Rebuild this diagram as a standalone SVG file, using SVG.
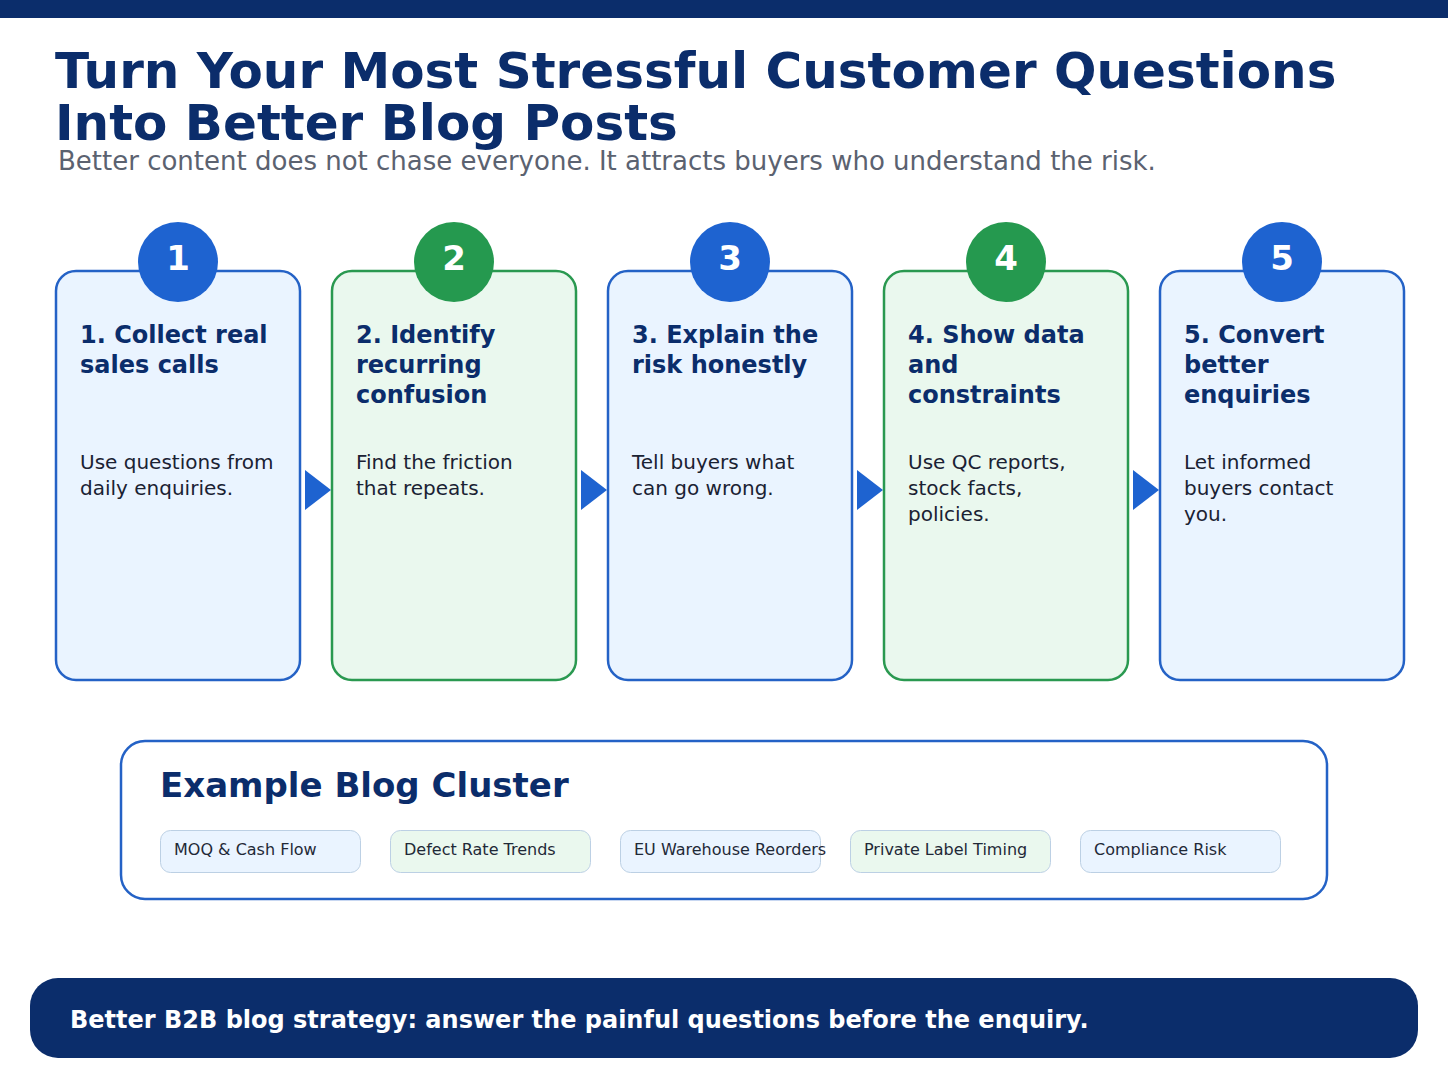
<svg xmlns="http://www.w3.org/2000/svg" width="1448" height="1086" viewBox="0 0 1448 1086">
<style>
text{font-family:"DejaVu Sans","Liberation Sans",sans-serif}
.title{font-size:50px;font-weight:bold;fill:#0B2D6B}
.sub{font-size:26px;fill:#5B6270}
.cb{fill:#EAF4FF;stroke:#2462C6;stroke-width:2.5}
.cg{fill:#EAF8EE;stroke:#2A9950;stroke-width:2.5}
.nb{fill:#1E63D0}
.ng{fill:#25994F}
.num{font-size:34px;font-weight:bold;fill:#fff;text-anchor:middle}
.ct{font-size:24px;font-weight:bold;fill:#0B2D6B}
.cx{font-size:20px;fill:#1A2233}
.arr{fill:#1E63D0}
.chb{fill:#EAF4FF;stroke:#BCD0E4;stroke-width:1}
.chg{fill:#EAF8EE;stroke:#BCD0E4;stroke-width:1}
.chip{font-size:16px;fill:#1F2937}
</style>
<rect x="0" y="0" width="1448" height="1086" fill="#fff"/>
<rect x="0" y="0" width="1448" height="18" fill="#0B2D6B"/>
<text class="title" x="55" y="88">Turn Your Most Stressful Customer Questions</text>
<text class="title" x="55" y="140">Into Better Blog Posts</text>
<text class="sub" x="58" y="170">Better content does not chase everyone. It attracts buyers who understand the risk.</text>

<g id="connectors">
<polygon class="arr" points="305,470 331,490 305,510"/>
<polygon class="arr" points="581,470 607,490 581,510"/>
<polygon class="arr" points="857,470 883,490 857,510"/>
<polygon class="arr" points="1133,470 1159,490 1133,510"/>
</g>

<g id="step1">
<rect class="cb" x="56" y="271" width="244" height="409" rx="20"/>
<circle class="nb" cx="178" cy="262" r="40"/>
<text class="num" x="178" y="270">1</text>
<text class="ct" x="80" y="343">1. Collect real</text>
<text class="ct" x="80" y="373">sales calls</text>
<text class="cx" x="80" y="469">Use questions from</text>
<text class="cx" x="80" y="495">daily enquiries.</text>
</g>
<g id="step2">
<rect class="cg" x="332" y="271" width="244" height="409" rx="20"/>
<circle class="ng" cx="454" cy="262" r="40"/>
<text class="num" x="454" y="270">2</text>
<text class="ct" x="356" y="343">2. Identify</text>
<text class="ct" x="356" y="373">recurring</text>
<text class="ct" x="356" y="403">confusion</text>
<text class="cx" x="356" y="469">Find the friction</text>
<text class="cx" x="356" y="495">that repeats.</text>
</g>
<g id="step3">
<rect class="cb" x="608" y="271" width="244" height="409" rx="20"/>
<circle class="nb" cx="730" cy="262" r="40"/>
<text class="num" x="730" y="270">3</text>
<text class="ct" x="632" y="343">3. Explain the</text>
<text class="ct" x="632" y="373">risk honestly</text>
<text class="cx" x="632" y="469">Tell buyers what</text>
<text class="cx" x="632" y="495">can go wrong.</text>
</g>
<g id="step4">
<rect class="cg" x="884" y="271" width="244" height="409" rx="20"/>
<circle class="ng" cx="1006" cy="262" r="40"/>
<text class="num" x="1006" y="270">4</text>
<text class="ct" x="908" y="343">4. Show data</text>
<text class="ct" x="908" y="373">and</text>
<text class="ct" x="908" y="403">constraints</text>
<text class="cx" x="908" y="469">Use QC reports,</text>
<text class="cx" x="908" y="495">stock facts,</text>
<text class="cx" x="908" y="521">policies.</text>
</g>
<g id="step5">
<rect class="cb" x="1160" y="271" width="244" height="409" rx="20"/>
<circle class="nb" cx="1282" cy="262" r="40"/>
<text class="num" x="1282" y="270">5</text>
<text class="ct" x="1184" y="343">5. Convert</text>
<text class="ct" x="1184" y="373">better</text>
<text class="ct" x="1184" y="403">enquiries</text>
<text class="cx" x="1184" y="469">Let informed</text>
<text class="cx" x="1184" y="495">buyers contact</text>
<text class="cx" x="1184" y="521">you.</text>
</g>

<g id="cluster">
<rect x="121" y="741" width="1206" height="158" rx="24" fill="#fff" stroke="#2462C6" stroke-width="2.5"/>
<text x="160" y="797" font-size="34" font-weight="bold" fill="#0B2D6B">Example Blog Cluster</text>
<rect class="chb" x="160.5" y="830.5" width="200" height="42" rx="10"/>
<text class="chip" x="174" y="855">MOQ &amp; Cash Flow</text>
<rect class="chg" x="390.5" y="830.5" width="200" height="42" rx="10"/>
<text class="chip" x="404" y="855">Defect Rate Trends</text>
<rect class="chb" x="620.5" y="830.5" width="200" height="42" rx="10"/>
<text class="chip" x="634" y="855">EU Warehouse Reorders</text>
<rect class="chg" x="850.5" y="830.5" width="200" height="42" rx="10"/>
<text class="chip" x="864" y="855">Private Label Timing</text>
<rect class="chb" x="1080.5" y="830.5" width="200" height="42" rx="10"/>
<text class="chip" x="1094" y="855">Compliance Risk</text>
</g>

<g id="footer">
<rect x="30" y="978" width="1388" height="80" rx="28" fill="#0B2D6B"/>
<text x="70" y="1028" font-size="24" font-weight="bold" fill="#fff">Better B2B blog strategy: answer the painful questions before the enquiry.</text>
</g>
</svg>
